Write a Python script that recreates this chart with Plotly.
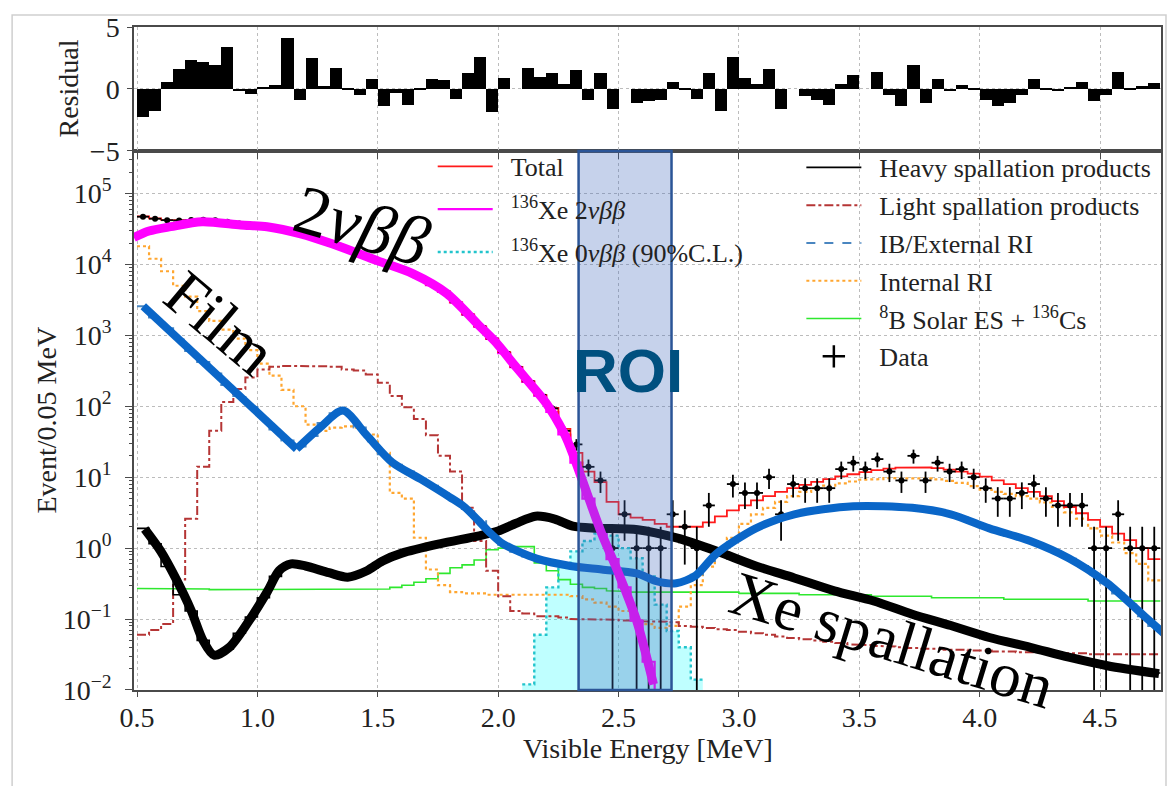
import numpy as np
import plotly.graph_objects as go

# ---------------- binning (0.05 MeV bins from 0.5 to 4.75 MeV) ----------------
EDGE0, BIN_W, NBIN = 0.50, 0.05, 85
edges = [round(EDGE0 + BIN_W * i, 3) for i in range(NBIN + 1)]
centers = [round(e + BIN_W / 2, 4) for e in edges[:-1]]

# ---------------- residual panel ----------------
residual = [-2.3, -1.8, 0.55, 1.6, 2.3, 2.2, 1.9, 3.4, -0.2, -0.4,
            0.1, 0.3, 4.1, -0.9, 2.5, 0.2, 1.7, -0.1, -0.5, 0.8,
            -1.4, -0.3, -1.3, -0.1, 0.8, 0.7, -0.8, 1.3, 2.6, -1.9,
            0.9, 0.0, 1.7, 1.0, 1.3, 0.4, 1.5, -0.9, 1.3, -1.6,
            0.0, -1.1, -1.0, -0.9, 0.6, -0.1, -0.8, 1.3, -1.8, 2.6,
            0.9, 0.4, 1.6, -1.6, 0.0, -0.6, -0.9, -1.3, 0.4, 1.1,
            0.0, 1.4, -0.5, -1.4, 1.9, -1.1, 0.8, -0.2, 0.3, -0.1,
            -0.9, -1.4, -1.1, -0.5, 0.8, -0.1, -0.2, 0.1, 0.6, -1.0,
            -0.5, 1.4, -0.1, 0.2, 0.5]

# ---------------- histogram components (events / 0.05 MeV) ----------------
total = [47500, 44500, 42500, 41500, 42100, 42600, 41900, 40000, 37700, 36000,
         34800, 32700, 30100, 27500, 25000, 22000, 19500, 16500, 14400, 12400,
         10700, 9200, 7950, 6600, 5200, 4150, 2920, 1970, 1340, 900,
         580, 360, 225, 145, 95, 48, 22, 12, 8.5, 4.5,
         3.0, 2.7, 2.5, 2.2, 2.0, 2.0, 2.0, 2.3, 2.8, 3.4,
         4.0, 4.7, 5.4, 6.2, 7.0, 7.8, 8.6, 9.4, 10.3, 11.0,
         11.8, 12.6, 13.2, 13.6, 13.8, 13.7, 13.4, 12.8, 12.0, 11.2,
         10.2, 9.0, 8.0, 7.0, 6.2, 5.4, 4.6, 3.8, 3.1, 2.5,
         2.0, 1.6, 1.3, 1.0, 0.7]

xe2nu = [28000, 31000, 33500, 36000, 38000, 40000, 40000, 38500, 36500, 35000,
         34000, 32000, 29500, 27000, 24500, 21500, 19000, 16000, 14000, 12000,
         10500, 9100, 7850, 6500, 5100, 4100, 2900, 1950, 1320, 890,
         560, 355, 220, 140, 83, 40, 16, 5.0, 1.8, 0.7,
         0.28, 0.095, 0.025, 0.006] + [None] * 41

internal_ri = [18000, 12000, 8000, 5000, 3500, 2200, 1600, 1200, 900, 620,
               400, 270, 170, 100, 55, 45, 50, 52, 50, 40,
               22, 6.0, 5.0, 1.4, 0.5, 0.3, 0.24, 0.23, 0.23, 0.22,
               0.22, 0.22, 0.22, 0.22, 0.22, 0.22, 0.21, 0.19, 0.17, 0.15,
               0.13, 0.10, 0.085, 0.075, 0.08, 0.15, 0.3, 0.55, 0.9, 1.4,
               2.2, 3.0, 3.7, 4.5, 5.4, 6.2, 7.0, 7.6, 8.2, 8.7,
               9.2, 9.4, 9.7, 9.8, 9.8, 9.6, 9.3, 8.9, 8.3, 7.5,
               6.7, 6.2, 5.8, 5.4, 5.0, 4.4, 3.8, 3.2, 2.6, 1.9,
               1.5, 1.2, 0.85, 0.6, 0.35]

light_spall = [0.06, 0.07, 0.085, 0.36, 2.6, 14, 45, 115, 175, 255,
               330, 360, 370, 370, 370, 365, 360, 330, 320, 280,
               215, 140, 97, 66, 39, 20, 12, 3.7, 1.26, 0.48,
               0.21, 0.13, 0.12, 0.11, 0.11, 0.105, 0.10, 0.10, 0.10, 0.098,
               0.096, 0.095, 0.093, 0.092, 0.09, 0.08, 0.078, 0.075, 0.072, 0.07,
               0.066, 0.063, 0.06, 0.057, 0.054, 0.052, 0.05, 0.048, 0.046, 0.044,
               0.043, 0.042, 0.041, 0.04, 0.039, 0.038, 0.038, 0.037, 0.037, 0.036,
               0.036, 0.035, 0.035, 0.034, 0.034, 0.033, 0.033, 0.033, 0.033, 0.032,
               0.032, 0.032, 0.032, 0.032, 0.032]

heavy_spall = [1.9, 1.15, 0.55, 0.22, 0.13, 0.05, 0.032, 0.038, 0.063, 0.107,
               0.2, 0.4, 0.58, 0.59, 0.54, 0.47, 0.42, 0.39, 0.43, 0.52,
               0.68, 0.79, 0.91, 1.0, 1.07, 1.17, 1.26, 1.38, 1.51, 1.66,
               1.9, 2.24, 2.63, 2.8, 2.63, 2.24, 2.04, 1.95, 1.9, 1.86,
               1.86, 1.82, 1.7, 1.55, 1.38, 1.2, 1.05, 0.95, 0.83, 0.71,
               0.63, 0.55, 0.49, 0.44, 0.38, 0.34, 0.30, 0.26, 0.23, 0.21,
               0.195, 0.17, 0.155, 0.135, 0.117, 0.105, 0.093, 0.081, 0.072, 0.065,
               0.058, 0.051, 0.047, 0.043, 0.039, 0.035, 0.032, 0.029, 0.026, 0.024,
               0.022, 0.021, 0.0195, 0.018, 0.0174]

ib_external = [2570, 1780, 1260, 870, 600, 420, 290, 200, 140, 98,
               68, 47, 33, 27, 38, 58, 80, 80, 50, 32,
               21, 15, 12, 9.5, 7.6, 5.9, 4.6, 3.6, 2.4, 1.6,
               1.12, 0.89, 0.76, 0.69, 0.63, 0.59, 0.56, 0.54, 0.5, 0.48,
               0.46, 0.44, 0.38, 0.33, 0.32, 0.35, 0.42, 0.66, 0.91, 1.2,
               1.55, 1.9, 2.3, 2.7, 3.0, 3.3, 3.55, 3.7, 3.85, 3.9,
               3.9, 3.9, 3.85, 3.8, 3.7, 3.55, 3.3, 3.0, 2.7, 2.3,
               1.95, 1.7, 1.5, 1.35, 1.2, 1.02, 0.85, 0.71, 0.56, 0.43,
               0.32, 0.23, 0.16, 0.11, 0.08]

solar_cs = [0.27, 0.27, 0.27, 0.27, 0.265, 0.265, 0.26, 0.26, 0.26, 0.26,
            0.26, 0.26, 0.26, 0.26, 0.26, 0.26, 0.26, 0.26, 0.26, 0.26,
            0.265, 0.28, 0.30, 0.33, 0.37, 0.44, 0.53, 0.58, 0.68, 0.95,
            1.0, 1.05, 1.05, 0.62, 0.48, 0.36, 0.31, 0.28, 0.27, 0.25,
            0.245, 0.24, 0.24, 0.24, 0.24, 0.24, 0.24, 0.24, 0.24, 0.24,
            0.23, 0.23, 0.23, 0.23, 0.23, 0.22, 0.22, 0.22, 0.22, 0.22,
            0.22, 0.21, 0.21, 0.21, 0.21, 0.21, 0.20, 0.20, 0.20, 0.20,
            0.20, 0.20, 0.19, 0.19, 0.19, 0.19, 0.19, 0.19, 0.19, 0.18,
            0.18, 0.18, 0.18, 0.18, 0.18]

# 0nbb 90% C.L. limit spectrum, bins from 2.10 to 2.85 MeV
onbb_edges = [2.10, 2.15, 2.20, 2.25, 2.30, 2.35, 2.40, 2.45, 2.50, 2.55,
              2.60, 2.65, 2.70, 2.75, 2.80, 2.85]
onbb = [0.012, 0.06, 0.28, 0.55, 0.9, 1.26, 1.6, 1.5, 1.0, 0.72,
        0.4, 0.16, 0.068, 0.04, 0.014]

# data counts per bin (None = empty bin)
data_counts = [47000, 44000, 42000, 41500, 42100, 42600, 41900, 40000, 37700, 36000,
               34800, 32700, 30100, 27500, 25000, 22000, 19500, 16500, 14400, 12400,
               10700, 9200, 7950, 6600, 5200, 4150, 2920, 1970, 1340, 900,
               580, 360, 225, 145, 93, 45, 29, 14, 9, 1,
               3, 1, 1, 1, 3, 2, 1, 4, None, 8,
               6, 6, 10, 3, 8, 7, 7, 7, 13, 16,
               13, 18, 12, 9, 20, 9, 16, 12, 13, 10,
               7, 5, 5, 6, 8, 5, 4, 4, 4, 1,
               1, 3, 1, 1, 1]

# ---------------- hand-drawn highlight curves (MeV, events) ----------------
curve_2nbb_x = [0.487, 0.55, 0.64, 0.77, 0.93, 1.04, 1.18, 1.31, 1.50, 1.645,
                1.786, 1.923, 1.993, 2.06, 2.13, 2.20, 2.27, 2.30, 2.37, 2.43,
                2.50, 2.575, 2.645]
curve_2nbb_y = [24000, 29500, 34000, 40000, 36000, 34000, 27000, 19500, 11200, 7400,
                3900, 1350, 780, 410, 214, 110, 44, 26, 5.8, 1.6,
                0.44, 0.095, 0.012]

curve_film_a_x = [0.526, 0.76, 1.0, 1.163]
curve_film_a_y = [2570, 470, 81, 25]
curve_film_b_x = [1.163, 1.26, 1.355, 1.454, 1.56, 1.68, 1.80, 1.86, 1.92, 1.97,
                  2.02, 2.16, 2.30, 2.43, 2.575, 2.66, 2.74, 2.82, 2.906, 3.07,
                  3.23, 3.475, 3.72, 3.88, 4.04, 4.21, 4.37, 4.53, 4.69, 4.81]
curve_film_b_y = [25, 50, 87, 39, 16.2, 9.3, 5.2, 3.8, 2.4, 1.6,
                  1.15, 0.71, 0.56, 0.50, 0.44, 0.34, 0.32, 0.41, 0.83, 1.9,
                  3.0, 3.9, 3.7, 3.0, 1.9, 1.26, 0.72, 0.32, 0.105, 0.046]

curve_xe_x = [0.532, 0.598, 0.66, 0.725, 0.774, 0.82, 0.884, 0.964, 1.043, 1.09,
              1.14, 1.20, 1.297, 1.375, 1.455, 1.52, 1.60, 1.757, 1.916, 2.0,
              2.075, 2.155, 2.235, 2.31, 2.41, 2.58, 2.745, 2.906, 3.07, 3.23,
              3.396, 3.56, 3.72, 3.88, 4.04, 4.21, 4.37, 4.53, 4.745]
curve_xe_y = [1.86, 0.91, 0.38, 0.132, 0.050, 0.031, 0.040, 0.093, 0.25, 0.48,
              0.60, 0.56, 0.45, 0.39, 0.48, 0.66, 0.85, 1.15, 1.48, 1.74,
              2.24, 2.82, 2.57, 2.04, 1.91, 1.82, 1.38, 0.91, 0.56, 0.38,
              0.25, 0.18, 0.117, 0.081, 0.055, 0.040, 0.029, 0.022, 0.017]

x_ticks = [0.5, 1.0, 1.5, 2.0, 2.5, 3.0, 3.5, 4.0, 4.5]
x_ticktext = ["0.5", "1.0", "1.5", "2.0", "2.5", "3.0", "3.5", "4.0", "4.5"]
y_ticks = [1e-2, 1e-1, 1e0, 1e1, 1e2, 1e3, 1e4, 1e5]
y_ticktext = ["10<sup>\u22122</sup>", "10<sup>\u22121</sup>", "10<sup>0</sup>", "10<sup>1</sup>",
              "10<sup>2</sup>", "10<sup>3</sup>", "10<sup>4</sup>", "10<sup>5</sup>"]
res_ticks = [-5, 0, 5]
res_ticktext = ["\u22125", "0", "5"]

ROI = (2.334, 2.72)


def step_xy(edg, vals):
    xs, ys = [], []
    for i, v in enumerate(vals):
        if v is None:
            xs.append(None); ys.append(None)
            continue
        xs += [edg[i], edg[i + 1]]
        ys += [v, v]
    return xs, ys


FONT = "Liberation Serif"
NB = "\u00a0\u00a0"
fig = go.Figure()

# residual bars
fig.add_trace(go.Bar(x=centers, y=residual, width=BIN_W, marker=dict(color="black", line=dict(width=0)),
                     xaxis="x2", yaxis="y2", showlegend=False, hoverinfo="skip"))

# 0nbb fill
fx, fy = step_xy(onbb_edges, onbb)
fig.add_trace(go.Scatter(x=fx, y=fy, mode="lines", line=dict(width=0), fill="tozeroy",
                         fillcolor="rgba(0,255,255,0.25)", showlegend=False, hoverinfo="skip"))


def hist_trace(vals, name, color, rank, dash="solid", width=1.6, legend="legend", edg=edges):
    xs, ys = step_xy(edg, vals)
    return go.Scatter(x=xs, y=ys, mode="lines", name=name, legend=legend, legendrank=rank,
                      legendgroup=name, line=dict(color=color, dash=dash, width=width))


fig.add_trace(hist_trace(solar_cs, NB + "<sup>8</sup>B Solar ES + <sup>136</sup>Cs", "#2ee82e", 5, legend="legend2"))
fig.add_trace(hist_trace(internal_ri, NB + "Internal RI", "#ffa630", 4, dash="dot", width=2.2, legend="legend2"))
fig.add_trace(hist_trace(ib_external, NB + "IB/External RI", "#4a86c0", 3, dash="dash", width=2, legend="legend2"))
fig.add_trace(hist_trace(light_spall, NB + "Light spallation products", "#b53535", 2, dash="dashdot", width=2, legend="legend2"))
fig.add_trace(hist_trace(heavy_spall, NB + "Heavy spallation products", "black", 1, legend="legend2"))
fig.add_trace(hist_trace(onbb, NB + "<sup>136</sup>Xe 0<i>\u03bd\u03b2\u03b2</i> (90%C.L.)", "#22c4cc", 3,
                         dash="dot", width=2.4, edg=onbb_edges))
fig.add_trace(hist_trace(xe2nu, NB + "<sup>136</sup>Xe 2<i>\u03bd\u03b2\u03b2</i>", "#ff00ff", 2, width=2.2))
fig.add_trace(hist_trace(total, NB + "Total", "#ff1a1a", 1, width=1.8))

# data
cx = [c for c, d in zip(centers, data_counts) if d is not None]
cy = [d for d in data_counts if d is not None]
err = np.sqrt(np.array(cy, dtype=float))
fig.add_trace(go.Scatter(x=cx, y=cy, mode="markers", marker=dict(color="black", size=6),
                         error_y=dict(type="data", array=err, arrayminus=err, thickness=1.8, width=0, color="black"),
                         error_x=dict(type="constant", value=BIN_W / 2, thickness=1.8, width=0, color="black"),
                         showlegend=False, hoverinfo="skip"))
fig.add_trace(go.Scatter(x=[None], y=[None], mode="markers", name=NB + "Data", legend="legend2",
                         legendgroup="data", legendrank=6,
                         marker=dict(symbol="cross-thin", size=16, color="black", line=dict(width=2.5, color="black"))))

# hand-drawn highlights
fig.add_trace(go.Scatter(x=curve_xe_x, y=curve_xe_y, mode="lines", line=dict(color="black", width=9, shape="spline", smoothing=0.8),
                         showlegend=False, hoverinfo="skip"))
fig.add_trace(go.Scatter(x=curve_film_a_x, y=curve_film_a_y, mode="lines", line=dict(color="#0a66c8", width=8),
                         showlegend=False, hoverinfo="skip"))
fig.add_trace(go.Scatter(x=curve_film_b_x, y=curve_film_b_y, mode="lines", line=dict(color="#0a66c8", width=8, shape="spline", smoothing=0.8),
                         showlegend=False, hoverinfo="skip"))
fig.add_trace(go.Scatter(x=curve_2nbb_x, y=curve_2nbb_y, mode="lines", line=dict(color="#ff00ff", width=9, shape="spline", smoothing=0.8),
                         showlegend=False, hoverinfo="skip"))

# ---------------- layout ----------------
L, R, T, B = 134, 13, 21, 96
W, H = 1175, 786
PW, PH = W - L - R, H - T - B


def px_x(p):
    return (p - L) / PW


def px_y(p):
    return (H - B - p) / PH


split = px_y(146)
axis_common = dict(showline=True, linecolor="#4a4a4a", linewidth=1.5, mirror=True,
                   ticks="outside", tickcolor="#4a4a4a", tickwidth=1.2,
                   showgrid=True, gridcolor="#bcbcbc", griddash="dot", gridwidth=1, zeroline=False,
                   tickfont=dict(family=FONT, size=28, color="#222"))

fig.update_layout(
    width=W, height=H, margin=dict(l=L, r=R, t=T, b=B),
    paper_bgcolor="white", plot_bgcolor="white",
    font=dict(family=FONT, color="#222"),
    xaxis=dict(domain=[0, 1], anchor="y", range=[0.4875, 4.753], tickvals=x_ticks, ticktext=x_ticktext,
               ticklen=5, ticklabelstandoff=-3, **axis_common),
    yaxis=dict(domain=[0, split], anchor="x", type="log", range=[-2, 5.6], tickvals=y_ticks, ticktext=y_ticktext,
               ticklen=7, ticklabelstandoff=8,
               minor=dict(ticks="outside", ticklen=3.5, tickcolor="#4a4a4a",
                          tickvals=[k * 10.0 ** p for p in range(-2, 6) for k in range(2, 10)], showgrid=False),
               **axis_common),
    xaxis2=dict(anchor="y2", matches="x", tickvals=x_ticks, showticklabels=False, ticklen=6, **axis_common),
    yaxis2=dict(domain=[split, 1], anchor="x2", range=[-5, 5], tickvals=res_ticks, ticktext=res_ticktext,
                ticklen=5, ticklabelstandoff=2, **axis_common),
    legend=dict(x=px_x(433), y=px_y(138), xanchor="left", yanchor="top", bgcolor="rgba(0,0,0,0)",
                font=dict(family=FONT, size=26, color="#222"), tracegroupgap=6, itemwidth=55),
    legend2=dict(x=px_x(802), y=px_y(139), xanchor="left", yanchor="top", bgcolor="rgba(0,0,0,0)",
                 font=dict(family=FONT, size=26, color="#222"), tracegroupgap=1, itemwidth=55),
    bargap=0,
)

shapes = [
    dict(type="rect", xref="x", yref="y domain", x0=ROI[0], x1=ROI[1], y0=0, y1=1, layer="above",
         fillcolor="rgba(65,105,190,0.30)", line=dict(color="#2b5597", width=2.5)),
    dict(type="rect", xref="paper", yref="paper", x0=px_x(12), x1=px_x(1167), y0=px_y(800), y1=px_y(9),
         line=dict(color="#cfcfcf", width=1.5), fillcolor="rgba(0,0,0,0)", layer="below"),
]
fig.update_layout(shapes=shapes)

ann = [
    dict(text="<b>ROI</b>", x=px_x(628), y=px_y(368), font=dict(family="Liberation Sans", size=62, color="#00507f"),
         textangle=0),
    dict(text="2<i>\u03bd\u03b2\u03b2</i>", x=px_x(362), y=px_y(221), font=dict(family=FONT, size=70, color="black"),
         textangle=16),
    dict(text="Film", x=px_x(221), y=px_y(320), font=dict(family=FONT, size=64, color="black"), textangle=40),
    dict(text="Xe spallation", x=px_x(893), y=px_y(640), font=dict(family=FONT, size=63, color="black"),
         textangle=17),
    dict(text="Residual", x=px_x(68), y=px_y(83), font=dict(family=FONT, size=28, color="#222"), textangle=-90),
    dict(text="Event/0.05 MeV", x=px_x(46), y=px_y(418), font=dict(family=FONT, size=28, color="#222"),
         textangle=-90),
    dict(text="Visible Energy [MeV]", x=px_x(648), y=px_y(749), font=dict(family=FONT, size=28, color="#222")),
]
for a in ann:
    a.update(xref="paper", yref="paper", showarrow=False, xanchor="center", yanchor="middle")
fig.update_layout(annotations=ann)

fig.write_html("out.html")
